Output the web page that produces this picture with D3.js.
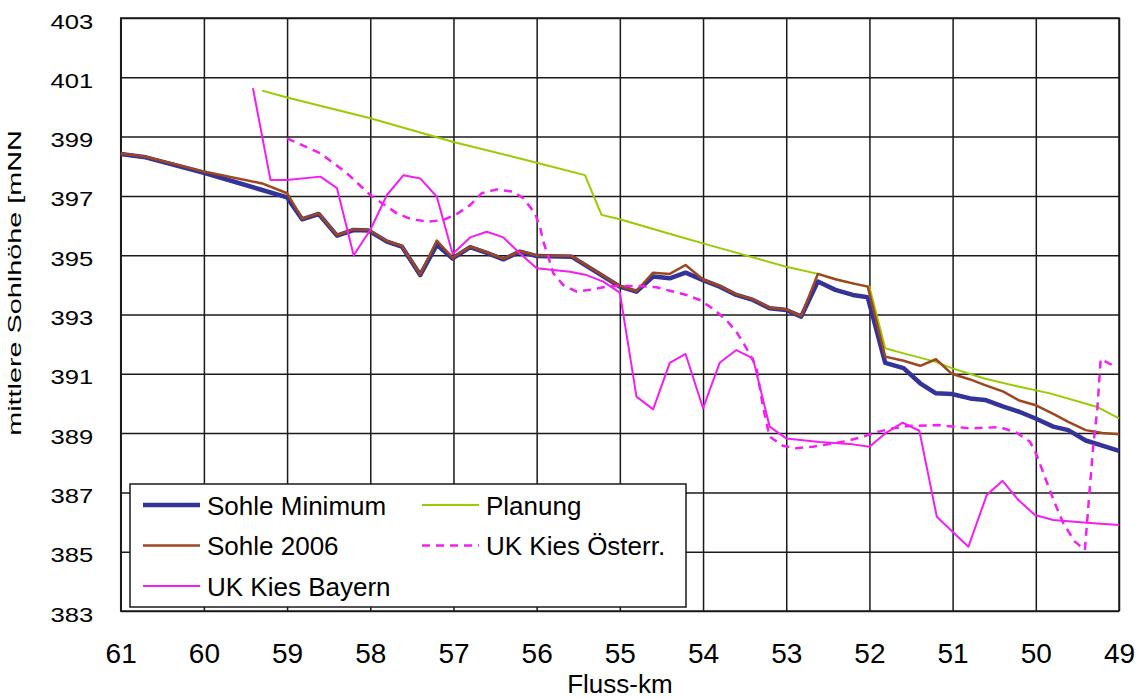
<!DOCTYPE html>
<html>
<head>
<meta charset="utf-8">
<script src="https://cdnjs.cloudflare.com/ajax/libs/d3/7.8.5/d3.min.js"></script>
<style>
  html, body { margin: 0; padding: 0; background: #fff; }
  svg { display: block; font-family: "Liberation Sans", Arial, sans-serif; }
</style>
</head>
<body>
<svg id="chart" width="1143" height="699"></svg>
<script>
// ---------- data ----------
const kmTicks = [61, 60, 59, 58, 57, 56, 55, 54, 53, 52, 51, 50, 49];
const heightTicks = [383, 385, 387, 389, 391, 393, 395, 397, 399, 401, 403];

const minKm = [61, 60.7, 60, 59.3, 59, 58.82, 58.62, 58.4, 58.2, 58.02, 57.8, 57.62, 57.4, 57.2, 57.01, 56.8, 56.6, 56.4, 56.2, 56.0, 55.58, 55.0, 54.8, 54.6, 54.4, 54.21, 54.0, 53.8, 53.6, 53.4, 53.2, 53.0, 52.82, 52.62, 52.41, 52.2, 52.02, 51.81, 51.59, 51.39, 51.2, 51.01, 50.79, 50.61, 50.39, 50.2, 50.01, 49.79, 49.61, 49.4, 49.2, 49.0];
const minH  = [398.41, 398.30, 397.78, 397.20, 396.95, 396.21, 396.39, 395.66, 395.85, 395.83, 395.46, 395.29, 394.33, 395.35, 394.89, 395.27, 395.08, 394.86, 395.12, 394.97, 394.95, 393.94, 393.77, 394.28, 394.22, 394.41, 394.16, 393.94, 393.66, 393.49, 393.21, 393.15, 392.93, 394.11, 393.83, 393.66, 393.58, 391.37, 391.19, 390.68, 390.34, 390.32, 390.17, 390.12, 389.89, 389.72, 389.50, 389.22, 389.10, 388.75, 388.58, 388.40];

const s2006Km = [61, 60.7, 60, 59.3, 59, 58.82, 58.62, 58.4, 58.2, 58.02, 57.8, 57.62, 57.4, 57.2, 57.01, 56.8, 56.6, 56.4, 56.2, 56.0, 55.58, 55.0, 54.8, 54.6, 54.4, 54.21, 54.0, 53.8, 53.6, 53.4, 53.2, 53.0, 52.82, 52.62, 52.41, 52.2, 52.02, 51.81, 51.59, 51.39, 51.2, 51.01, 50.79, 50.61, 50.39, 50.2, 50.01, 49.79, 49.61, 49.4, 49.2, 49.0];
const s2006H  = [398.43, 398.32, 397.82, 397.42, 397.09, 396.23, 396.41, 395.68, 395.87, 395.85, 395.48, 395.31, 394.35, 395.49, 394.91, 395.29, 395.10, 394.88, 395.14, 394.99, 394.97, 393.96, 393.79, 394.41, 394.37, 394.67, 394.18, 393.96, 393.68, 393.51, 393.23, 393.17, 392.95, 394.37, 394.19, 394.05, 393.94, 391.58, 391.44, 391.27, 391.49, 391.00, 390.81, 390.62, 390.40, 390.10, 389.95, 389.65, 389.38, 389.10, 389.00, 388.96];

const planKm = [59.3, 59.0, 58.0, 57.0, 56.0, 55.42, 55.22, 55.0, 54.28, 54.0, 53.0, 52.62, 52.4, 52.2, 52.0, 51.81, 51.59, 51.21, 51.01, 50.63, 50.21, 49.83, 49.27, 49.0];
const planH  = [400.55, 400.32, 399.62, 398.82, 398.12, 397.70, 396.36, 396.21, 395.62, 395.40, 394.61, 394.37, 394.19, 394.05, 393.94, 391.86, 391.69, 391.41, 391.19, 390.85, 390.57, 390.34, 389.89, 389.50];

const oesKm = [59.0, 58.6, 58.28, 58.0, 57.68, 57.5, 57.3, 57.12, 56.96, 56.8, 56.66, 56.48, 56.28, 56.16, 56.02, 55.96, 55.92, 55.86, 55.8, 55.68, 55.52, 55.32, 55.12, 54.96, 54.76, 54.56, 54.4, 54.2, 54.04, 53.86, 53.72, 53.6, 53.5, 53.36, 53.28, 53.2, 53.04, 52.88, 52.68, 52.48, 52.28, 52.1, 51.92, 51.72, 51.53, 51.17, 50.79, 50.43, 50.23, 50.07, 49.99, 49.87, 49.77, 49.67, 49.53, 49.41, 49.35, 49.31, 49.26, 49.22, 49.03];
const oesH  = [398.94, 398.44, 397.76, 397.03, 396.41, 396.21, 396.13, 396.19, 396.39, 396.69, 397.09, 397.22, 397.14, 396.92, 396.41, 395.96, 395.46, 394.95, 394.39, 393.99, 393.77, 393.85, 393.96, 393.96, 393.96, 393.92, 393.80, 393.66, 393.49, 393.15, 392.81, 392.42, 391.97, 391.24, 389.89, 388.88, 388.57, 388.49, 388.54, 388.63, 388.73, 388.86, 389.03, 389.16, 389.24, 389.27, 389.16, 389.20, 389.01, 388.71, 388.26, 387.36, 386.63, 385.96, 385.34, 385.06, 387.19, 388.54, 389.84, 391.50, 391.22];

const bayKm = [59.41, 59.2, 59.0, 58.6, 58.4, 58.2, 58.0, 57.8, 57.6, 57.4, 57.2, 57.01, 56.8, 56.6, 56.4, 56.2, 56.0, 55.8, 55.6, 55.4, 55.2, 55.0, 54.8, 54.6, 54.4, 54.21, 54.0, 53.8, 53.6, 53.4, 53.2, 53.0, 52.6, 52.2, 52.0, 51.81, 51.6, 51.4, 51.19, 50.81, 50.59, 50.4, 50.21, 50.01, 49.79, 49.39, 49.0];
const bayH  = [400.63, 397.54, 397.54, 397.65, 397.26, 395.00, 395.85, 397.03, 397.70, 397.59, 396.97, 395.04, 395.60, 395.79, 395.60, 395.06, 394.56, 394.50, 394.44, 394.33, 394.11, 393.74, 390.23, 389.80, 391.37, 391.67, 389.84, 391.37, 391.80, 391.52, 389.22, 388.82, 388.70, 388.62, 388.54, 388.99, 389.35, 389.08, 386.18, 385.17, 386.91, 387.39, 386.74, 386.24, 386.07, 385.98, 385.90];

const seriesNames = ["Sohle Minimum", "Planung", "Sohle 2006", "UK Kies Österr.", "UK Kies Bayern"];
const axisTitleX = "Fluss-km";
const axisTitleY = "mittlere Sohlhöhe [mNN";

// ---------- styles ----------
const styles = {
  "Sohle Minimum":   { color: "#333399", width: 4.5, dash: null },
  "Planung":         { color: "#99CC00", width: 2,   dash: null },
  "Sohle 2006":      { color: "#A0461E", width: 2.5, dash: null },
  "UK Kies Österr.": { color: "#F21EF2", width: 2.5, dash: "8,6" },
  "UK Kies Bayern":  { color: "#F21EF2", width: 2,   dash: null }
};

const seriesData = {
  "Sohle Minimum": d3.zip(minKm, minH),
  "Planung": d3.zip(planKm, planH),
  "Sohle 2006": d3.zip(s2006Km, s2006H),
  "UK Kies Österr.": d3.zip(oesKm, oesH),
  "UK Kies Bayern": d3.zip(bayKm, bayH)
};
const drawOrder = ["Planung", "Sohle Minimum", "Sohle 2006", "UK Kies Österr.", "UK Kies Bayern"];

// ---------- layout ----------
const L = 120.7, R = 1119, T = 18, B = 611;
const svg = d3.select("#chart");

const x = d3.scaleLinear().domain([61, 49]).range([L, R]);
const y = d3.scaleLinear().domain([383, 403]).range([B, T]);

// grid + x labels
const xAxis = d3.axisBottom(x).tickValues(kmTicks).tickFormat(d3.format("d"))
  .tickSizeInner(-(B - T)).tickSizeOuter(0);
const gx = svg.append("g").attr("transform", `translate(0,${B})`).call(xAxis);
gx.select(".domain").remove();
gx.selectAll(".tick line").attr("stroke", "#1a1a1a").attr("stroke-width", 1.5);
gx.selectAll(".tick text")
  .attr("y", 52).attr("dy", 0)
  .attr("fill", "#000")
  .style("font-size", "28px")
  .style("font-family", "'Liberation Sans', Arial, sans-serif");

const yAxis = d3.axisLeft(y).tickValues(heightTicks).tickFormat(d3.format("d"))
  .tickSizeInner(-(R - L)).tickSizeOuter(0);
const gy = svg.append("g").attr("transform", `translate(${L},0)`).call(yAxis);
gy.select(".domain").remove();
gy.selectAll(".tick line").attr("stroke", "#1a1a1a").attr("stroke-width", 1.5);
gy.selectAll(".tick text")
  .attr("x", null).attr("dy", null)
  .attr("text-anchor", "end")
  .attr("transform", "translate(-27.5,10) scale(1.22,1)")
  .attr("fill", "#000")
  .style("font-size", "21px")
  .style("font-family", "'Liberation Sans', Arial, sans-serif");

// frame
svg.append("rect").attr("x", L).attr("y", T).attr("width", R - L).attr("height", B - T)
  .attr("fill", "none").attr("stroke", "#1a1a1a").attr("stroke-width", 1.5);

// lines
const line = d3.line().x(d => x(d[0])).y(d => y(d[1]));
const plot = svg.append("g");
drawOrder.forEach(name => {
  const st = styles[name];
  plot.append("path")
    .datum(seriesData[name])
    .attr("d", line)
    .attr("fill", "none")
    .attr("stroke", st.color)
    .attr("stroke-width", st.width)
    .attr("stroke-linejoin", "round")
    .attr("stroke-dasharray", st.dash);
});

// axis titles
svg.append("text")
  .attr("transform", `translate(${(L + R) / 2},693)`)
  .attr("text-anchor", "middle")
  .style("font-size", "26px")
  .text(axisTitleX);

svg.append("text")
  .attr("transform", "translate(21,283) rotate(-90) scale(1.6,1)")
  .attr("text-anchor", "middle")
  .style("font-size", "18px")
  .text(axisTitleY);

// legend
const lg = svg.append("g");
lg.append("rect").attr("x", 130).attr("y", 484).attr("width", 556).attr("height", 123)
  .attr("fill", "#fff").attr("stroke", "#1a1a1a").attr("stroke-width", 1.5);
const colX = [143, 422];
const rowY = [505, 545.5, 586];
seriesNames.forEach((name, i) => {
  const st = styles[name];
  const cx = colX[i % 2], cy = rowY[Math.floor(i / 2)];
  lg.append("line")
    .attr("x1", cx).attr("x2", cx + 57).attr("y1", cy).attr("y2", cy)
    .attr("stroke", st.color).attr("stroke-width", st.width)
    .attr("stroke-dasharray", st.dash);
  lg.append("text")
    .attr("x", cx + 64).attr("y", cy + 9.5)
    .style("font-size", "26px")
    .text(name);
});
</script>
</body>
</html>
